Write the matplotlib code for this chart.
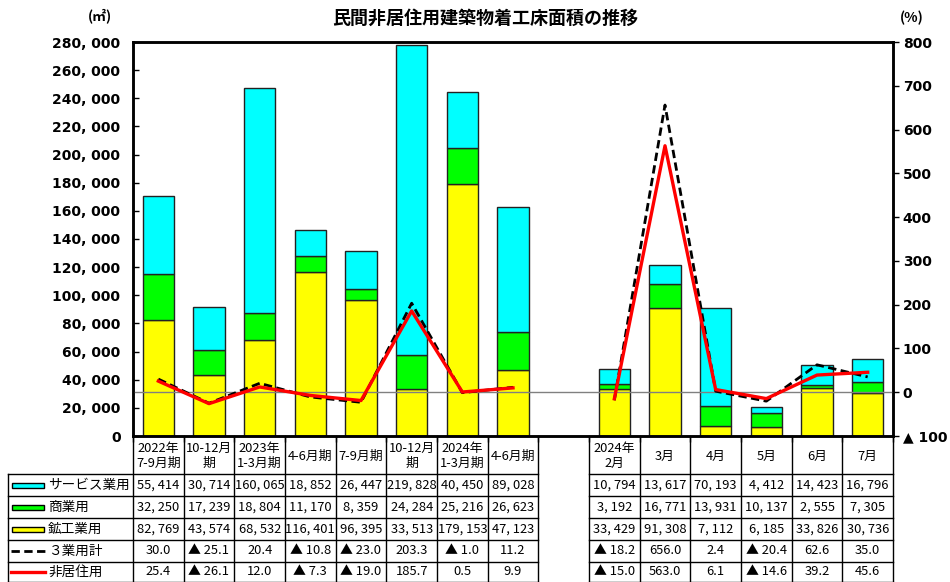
import matplotlib
matplotlib.use("Agg")
import matplotlib.pyplot as plt
from matplotlib.ticker import FuncFormatter, FixedLocator
from matplotlib.patches import Rectangle
from matplotlib.lines import Line2D
import numpy as np

JP = ["Noto Sans CJK JP", "DejaVu Sans"]
NUM = ["DejaVu Sans", "Noto Sans CJK JP"]
plt.rcParams["font.family"] = JP

# ---- data -------------------------------------------------------------
periods = ["2022年\n7-9月期", "10-12月\n期", "2023年\n1-3月期", "4-6月期", "7-9月期",
           "10-12月\n期", "2024年\n1-3月期", "4-6月期", "",
           "2024年\n2月", "3月", "4月", "5月", "6月", "7月"]
service = [55414, 30714, 160065, 18852, 26447, 219828, 40450, 89028, None,
           10794, 13617, 70193, 4412, 14423, 16796]
commerce = [32250, 17239, 18804, 11170, 8359, 24284, 25216, 26623, None,
            3192, 16771, 13931, 10137, 2555, 7305]
mining = [82769, 43574, 68532, 116401, 96395, 33513, 179153, 47123, None,
          33429, 91308, 7112, 6185, 33826, 30736]
total3 = [30.0, -25.1, 20.4, -10.8, -23.0, 203.3, -1.0, 11.2, None,
          -18.2, 656.0, 2.4, -20.4, 62.6, 35.0]
nonres = [25.4, -26.1, 12.0, -7.3, -19.0, 185.7, 0.5, 9.9, None,
          -15.0, 563.0, 6.1, -14.6, 39.2, 45.6]

series_names = ["サービス業用", "商業用", "鉱工業用", "３業用計", "非居住用"]
C_SERV, C_COMM, C_MIN = "#00FFFF", "#00FF00", "#FFFF00"

# ---- figure -------------------------------------------------------------
W, H = 950, 582
fig = plt.figure(figsize=(W / 100, H / 100), dpi=100)
L, R, T, B = 133, 893, 42, 436
ax = fig.add_axes([L / W, 1 - B / H, (R - L) / W, (B - T) / H])
ax2 = ax.twinx()

n = len(periods)
x = np.arange(n)
idx = [i for i in range(n) if service[i] is not None]
xs = x[idx]
m = np.array([mining[i] for i in idx], float)
c = np.array([commerce[i] for i in idx], float)
s = np.array([service[i] for i in idx], float)

bw = 0.62
ek = dict(edgecolor="#222222", linewidth=1.0, width=bw, zorder=2)
ax.bar(xs, m, color=C_MIN, **ek)
ax.bar(xs, c, bottom=m, color=C_COMM, **ek)
ax.bar(xs, s, bottom=m + c, color=C_SERV, **ek)

ax.set_xlim(-0.5, n - 0.5)
ax.set_ylim(0, 280000)
ax.yaxis.set_major_locator(FixedLocator(np.arange(0, 280001, 20000)))
ax.yaxis.set_major_formatter(FuncFormatter(lambda v, p: f"{int(v):,}".replace(",", ", ")))
ax.tick_params(axis="y", direction="in", length=4, width=1, pad=9)
ax.set_xticks(np.arange(-0.5, n, 1.0))
ax.set_xticklabels([])
ax.tick_params(axis="x", direction="out", length=4, width=1)
for lab in ax.get_yticklabels():
    lab.set_fontfamily(NUM)
    lab.set_fontweight("bold")
    lab.set_fontsize(10)

# growth-rate lines, drawn separately for quarters and months
ax2.set_ylim(-100, 800)
ax2.axhline(0, color="#808080", lw=1.0, zorder=1)
groups = [[i for i in range(0, 8)], [i for i in range(9, n)]]
for g in groups:
    ax2.plot(x[g], [total3[i] for i in g], color="black", lw=2.0,
             ls=(0, (3.0, 1.6)), zorder=4)
    ax2.plot(x[g], [nonres[i] for i in g], color="#FF0000", lw=2.4, zorder=5)
ax2.yaxis.set_major_locator(FixedLocator(np.arange(-100, 801, 100)))
ax2.yaxis.set_major_formatter(FuncFormatter(lambda v, p: "▲ 100" if v < 0 else f"{int(v)}"))
ax2.tick_params(axis="y", direction="out", length=4, width=1, pad=3)
for lab in ax2.get_yticklabels():
    lab.set_fontfamily(NUM)
    lab.set_fontweight("bold")
    lab.set_fontsize(10)

for a in (ax, ax2):
    for sp in a.spines.values():
        sp.set_linewidth(1.8)
ax.patch.set_visible(False)
ax2.set_zorder(ax.get_zorder() + 1)
ax2.patch.set_visible(False)

# titles
fig.text(485 / W, 1 - 18 / H, "民間非居住用建築物着工床面積の推移", ha="center", va="center",
         fontsize=13, fontweight="bold")
fig.text(100 / W, 1 - 16 / H, "(㎡)", ha="center", va="center", fontsize=10, fontweight="bold")
fig.text(912 / W, 1 - 18 / H, "(%)", ha="center", va="center", fontsize=10, fontweight="bold")

# ---- data table ----------------------------------------------------------
tab = fig.add_axes([0, 0, 1, 1], zorder=-1)
tab.set_xlim(0, W)
tab.set_ylim(H, 0)
tab.axis("off")

cw = (R - L) / n
col_edges = [L + i * cw for i in range(n + 1)]
row_edges = [B, 474, 496, 518, 540, 562, 581.5]
gap = 8
lk = dict(color="black", lw=1.0)

for i, xe in enumerate(col_edges):
    tab.plot([xe, xe], [B, row_edges[-1]], **lk)
tab.plot([8, 8], [row_edges[1], row_edges[-1]], **lk)
for yr in row_edges[1:]:
    tab.plot([8, col_edges[gap]], [yr, yr], **lk)
    tab.plot([col_edges[gap + 1], R], [yr, yr], **lk)

def fmt_int(v):
    return f"{v:,}".replace(",", ", ")

def fmt_pct(v):
    return f"▲ {abs(v):.1f}" if v < 0 else f"{v:.1f}"

rows = [[fmt_int(v) if v is not None else "" for v in service],
        [fmt_int(v) if v is not None else "" for v in commerce],
        [fmt_int(v) if v is not None else "" for v in mining],
        [fmt_pct(v) if v is not None else "" for v in total3],
        [fmt_pct(v) if v is not None else "" for v in nonres]]

for j, lab in enumerate(periods):
    tab.text((col_edges[j] + col_edges[j + 1]) / 2, (row_edges[0] + row_edges[1]) / 2 + 1, lab,
             ha="center", va="center", fontsize=9.3, linespacing=1.2)
for r, vals in enumerate(rows):
    yc = (row_edges[r + 1] + row_edges[r + 2]) / 2
    for j, v in enumerate(vals):
        if v:
            tab.text((col_edges[j] + col_edges[j + 1]) / 2, yc, v,
                     ha="center", va="center", fontsize=9.3)

# legend keys in the label column
for r, name in enumerate(series_names):
    yc = (row_edges[r + 1] + row_edges[r + 2]) / 2
    if r < 3:
        col = [C_SERV, C_COMM, C_MIN][r]
        tab.add_patch(Rectangle((12, yc - 2.5), 32, 5, facecolor=col, edgecolor="black", lw=1.0))
    elif r == 3:
        tab.add_line(Line2D([11, 45], [yc, yc], color="black", lw=2.0, ls=(0, (3.0, 1.6))))
    else:
        tab.add_line(Line2D([11, 45], [yc, yc], color="#FF0000", lw=2.4))
    tab.text(48, yc, name, ha="left", va="center", fontsize=9.8)

fig.savefig("out.png", dpi=100)
